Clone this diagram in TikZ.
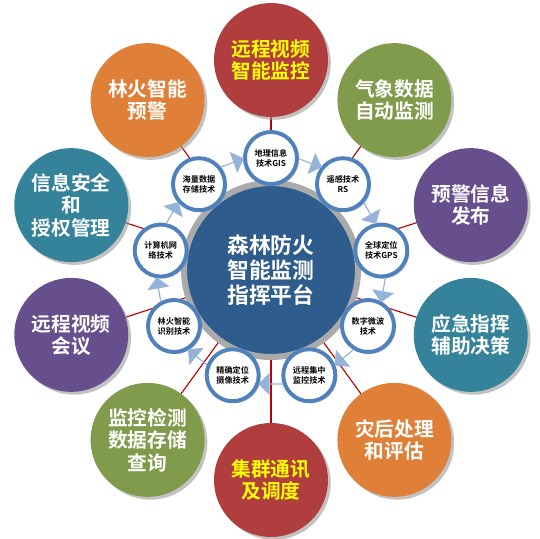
\documentclass[tikz,border=0pt]{standalone}
\usepackage{fontspec}
\setmainfont{Noto Sans CJK SC}[BoldFont={Noto Sans CJK SC Bold}]
\usetikzlibrary{shapes.arrows,shadows,backgrounds,positioning}
\definecolor{HubBlue}{RGB}{46, 92, 140}
\definecolor{RingGray}{RGB}{170, 170, 170}
\definecolor{SpokeRed}{RGB}{192, 0, 0}
\definecolor{TechBlue}{RGB}{79, 129, 189}
\definecolor{FlowBlue}{RGB}{149, 179, 215}
\definecolor{PlateRed}{RGB}{176, 62, 62}
\definecolor{PlateGreen}{RGB}{128, 155, 76}
\definecolor{PlatePurple}{RGB}{103, 78, 140}
\definecolor{PlateTeal}{RGB}{52, 131, 155}
\definecolor{PlateOrange}{RGB}{224, 128, 56}
\definecolor{TextYellow}{RGB}{255, 255, 0}

\begin{document}
\begin{tikzpicture}[
  plate/.style={circle, minimum size=2.85cm, inner sep=0pt, align=center, text=white,
    font=\bfseries\fontsize{14}{16}\selectfont,
    drop shadow={shadow xshift=0.07cm, shadow yshift=-0.07cm, fill=black!40, opacity=0.6}},
  tech/.style={circle, draw=TechBlue, line width=2.8pt, fill=white, minimum size=1.3cm,
    inner sep=0pt, align=center, font=\bfseries\fontsize{5.8}{7}\selectfont,
    drop shadow={shadow xshift=0.05cm, shadow yshift=-0.05cm, fill=black!40, opacity=0.5}},
  flow/.style={single arrow, fill=FlowBlue, minimum height=0.62cm, minimum width=0.56cm,
    single arrow head extend=0.13cm, inner sep=0pt},
  spoke/.style={SpokeRed, line width=0.8pt}
]
  \useasboundingbox (-6.775, -6.725) rectangle (6.725, 6.75);

  % Platform hub
  \node[circle, fill=HubBlue, draw=RingGray, line width=4.3pt, minimum size=4.35cm,
    align=center, text=white, font=\bfseries\fontsize{15.5}{18}\selectfont]
    (hub) at (0, 0) {森林防火\\智能监测\\指挥平台};

  % Application plates
  \node[plate, fill=PlateRed, text=TextYellow] (video) at (90:5.25) {远程视频\\智能监控};
  \node[plate, fill=PlateGreen] (weather) at (54:5.25) {气象数据\\自动监测};
  \node[plate, fill=PlatePurple] (warn) at (18:5.25) {预警信息\\发布};
  \node[plate, fill=PlateTeal] (command) at (-18:5.25) {应急指挥\\辅助决策};
  \node[plate, fill=PlateOrange] (after) at (-54:5.25) {灾后处理\\和评估};
  \node[plate, fill=PlateRed, text=TextYellow] (radio) at (-90:5.25) {集群通讯\\及调度};
  \node[plate, fill=PlateGreen] (storage) at (-126:5.25) {监控检测\\数据存储\\查询};
  \node[plate, fill=PlatePurple] (meeting) at (-162:5.25) {远程视频\\会议};
  \node[plate, fill=PlateTeal] (security) at (162:5.25) {信息安全\\和\\授权管理};
  \node[plate, fill=PlateOrange] (alarm) at (126:5.25) {林火智能\\预警};

  % Technology ring
  \node[tech] (gis) at (90:2.8) {地理信息\\技术GIS};
  \node[tech] (rs) at (50:2.8) {遥感技术\\RS};
  \node[tech] (gps) at (10:2.8) {全球定位\\技术GPS};
  \node[tech] (wave) at (-30:2.8) {数字微波\\技术};
  \node[tech] (remote) at (-70:2.8) {远程集中\\监控技术};
  \node[tech] (camera) at (-110:2.8) {精确定位\\摄像技术};
  \node[tech] (detect) at (-150:2.8) {林火智能\\识别技术};
  \node[tech] (net) at (170:2.8) {计算机网\\络技术};
  \node[tech] (mass) at (130:2.8) {海量数据\\存储技术};

  % Flow arrows between technologies
  \node[flow, rotate=-20] (f1) at (70:2.85) {};
  \node[flow, rotate=-60] (f2) at (30:2.85) {};
  \node[flow, rotate=-100] (f3) at (-10:2.85) {};
  \node[flow, rotate=-140] (f4) at (-50:2.85) {};
  \node[flow, rotate=-180] (f5) at (-90:2.85) {};
  \node[flow, rotate=140] (f6) at (-130:2.85) {};
  \node[flow, rotate=100] (f7) at (-170:2.85) {};
  \node[flow, rotate=60] (f8) at (150:2.85) {};
  \node[flow, rotate=20] (f9) at (110:2.85) {};

  % Spokes
  \begin{scope}[on background layer]
    \draw[spoke] (hub.center) -- (video.center);
    \draw[spoke] (hub.center) -- (weather.center);
    \draw[spoke] (hub.center) -- (warn.center);
    \draw[spoke] (hub.center) -- (command.center);
    \draw[spoke] (hub.center) -- (after.center);
    \draw[spoke] (hub.center) -- (radio.center);
    \draw[spoke] (hub.center) -- (storage.center);
    \draw[spoke] (hub.center) -- (meeting.center);
    \draw[spoke] (hub.center) -- (security.center);
    \draw[spoke] (hub.center) -- (alarm.center);
  \end{scope}
\end{tikzpicture}
\end{document}
